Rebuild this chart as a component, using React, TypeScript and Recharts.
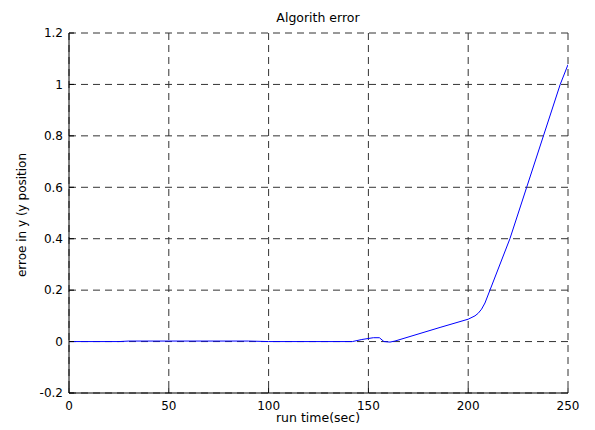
import React from "react";
import { LineChart, Line, XAxis, YAxis, CartesianGrid } from "recharts";

// run time (sec) and error readings taken off the plot
const runTime = [0, 25, 30, 90, 100, 142, 146.7, 152.5, 155.5, 157.8, 160.8, 163.3, 185.9, 200, 203.4, 205, 206.7, 208.4, 210.9, 220.9, 229.3, 237.7, 246.1, 250];
const yError = [0, 0, 0.002, 0.002, 0, 0, 0.008, 0.015, 0.015, 0, -0.002, 0.002, 0.055, 0.087, 0.1, 0.11, 0.126, 0.15, 0.2, 0.4, 0.6, 0.8, 1.0, 1.077];

const xTicks = [0, 50, 100, 150, 200, 250];
const yTicks = [-0.2, 0, 0.2, 0.4, 0.6, 0.8, 1, 1.2];

const title = "Algorith error";
const xLabel = "run time(sec)";
const yLabel = "erroe in y (y position";

const data = runTime.map((t, i) => ({ t, err: yError[i] }));

const FONT = "'DejaVu Sans', 'Liberation Sans', Arial, sans-serif";
const tickStyle = { fill: "#000", fontSize: 12, fontFamily: FONT };
const blank = () => "";

export default function App() {
  return (
    <div style={{ position: "absolute", left: 0, top: 0, width: 595, height: 430, background: "#fff" }}>
      <LineChart width={595} height={430} data={data} margin={{ top: 33, right: 27, bottom: 0, left: 0 }}>
        <CartesianGrid stroke="#333" strokeDasharray="7 5" />
        <XAxis
          dataKey="t"
          type="number"
          domain={[0, 250]}
          ticks={xTicks}
          height={37}
          tick={tickStyle}
          tickSize={-5}
          tickMargin={13}
          stroke="#000"
          allowDataOverflow
        />
        <XAxis
          xAxisId="top"
          orientation="top"
          dataKey="t"
          type="number"
          domain={[0, 250]}
          ticks={xTicks}
          height={0}
          tickFormatter={blank}
          tickSize={-5}
          stroke="#000"
        />
        <YAxis
          type="number"
          domain={[-0.2, 1.2]}
          ticks={yTicks}
          width={69}
          tick={tickStyle}
          tickSize={-5}
          tickMargin={11}
          stroke="#000"
          allowDataOverflow
        />
        <YAxis
          yAxisId="right"
          orientation="right"
          type="number"
          domain={[-0.2, 1.2]}
          ticks={yTicks}
          width={0}
          tickFormatter={blank}
          tickSize={-5}
          stroke="#000"
        />
        <Line
          type="linear"
          dataKey="err"
          stroke="#0000ff"
          strokeWidth={1}
          dot={false}
          isAnimationActive={false}
        />
      </LineChart>
      <svg width={595} height={430} style={{ position: "absolute", left: 0, top: 0, pointerEvents: "none" }}>
        <text x={318} y={22} textAnchor="middle" fontSize={12.5} fontFamily={FONT} fill="#000">
          {title}
        </text>
        <text x={318} y={422} textAnchor="middle" fontSize={12.5} fontFamily={FONT} fill="#000">
          {xLabel}
        </text>
        <text
          x={26}
          y={215}
          textAnchor="middle"
          fontSize={12}
          fontFamily={FONT}
          fill="#000"
          transform="rotate(-90 26 215)"
        >
          {yLabel}
        </text>
      </svg>
    </div>
  );
}
